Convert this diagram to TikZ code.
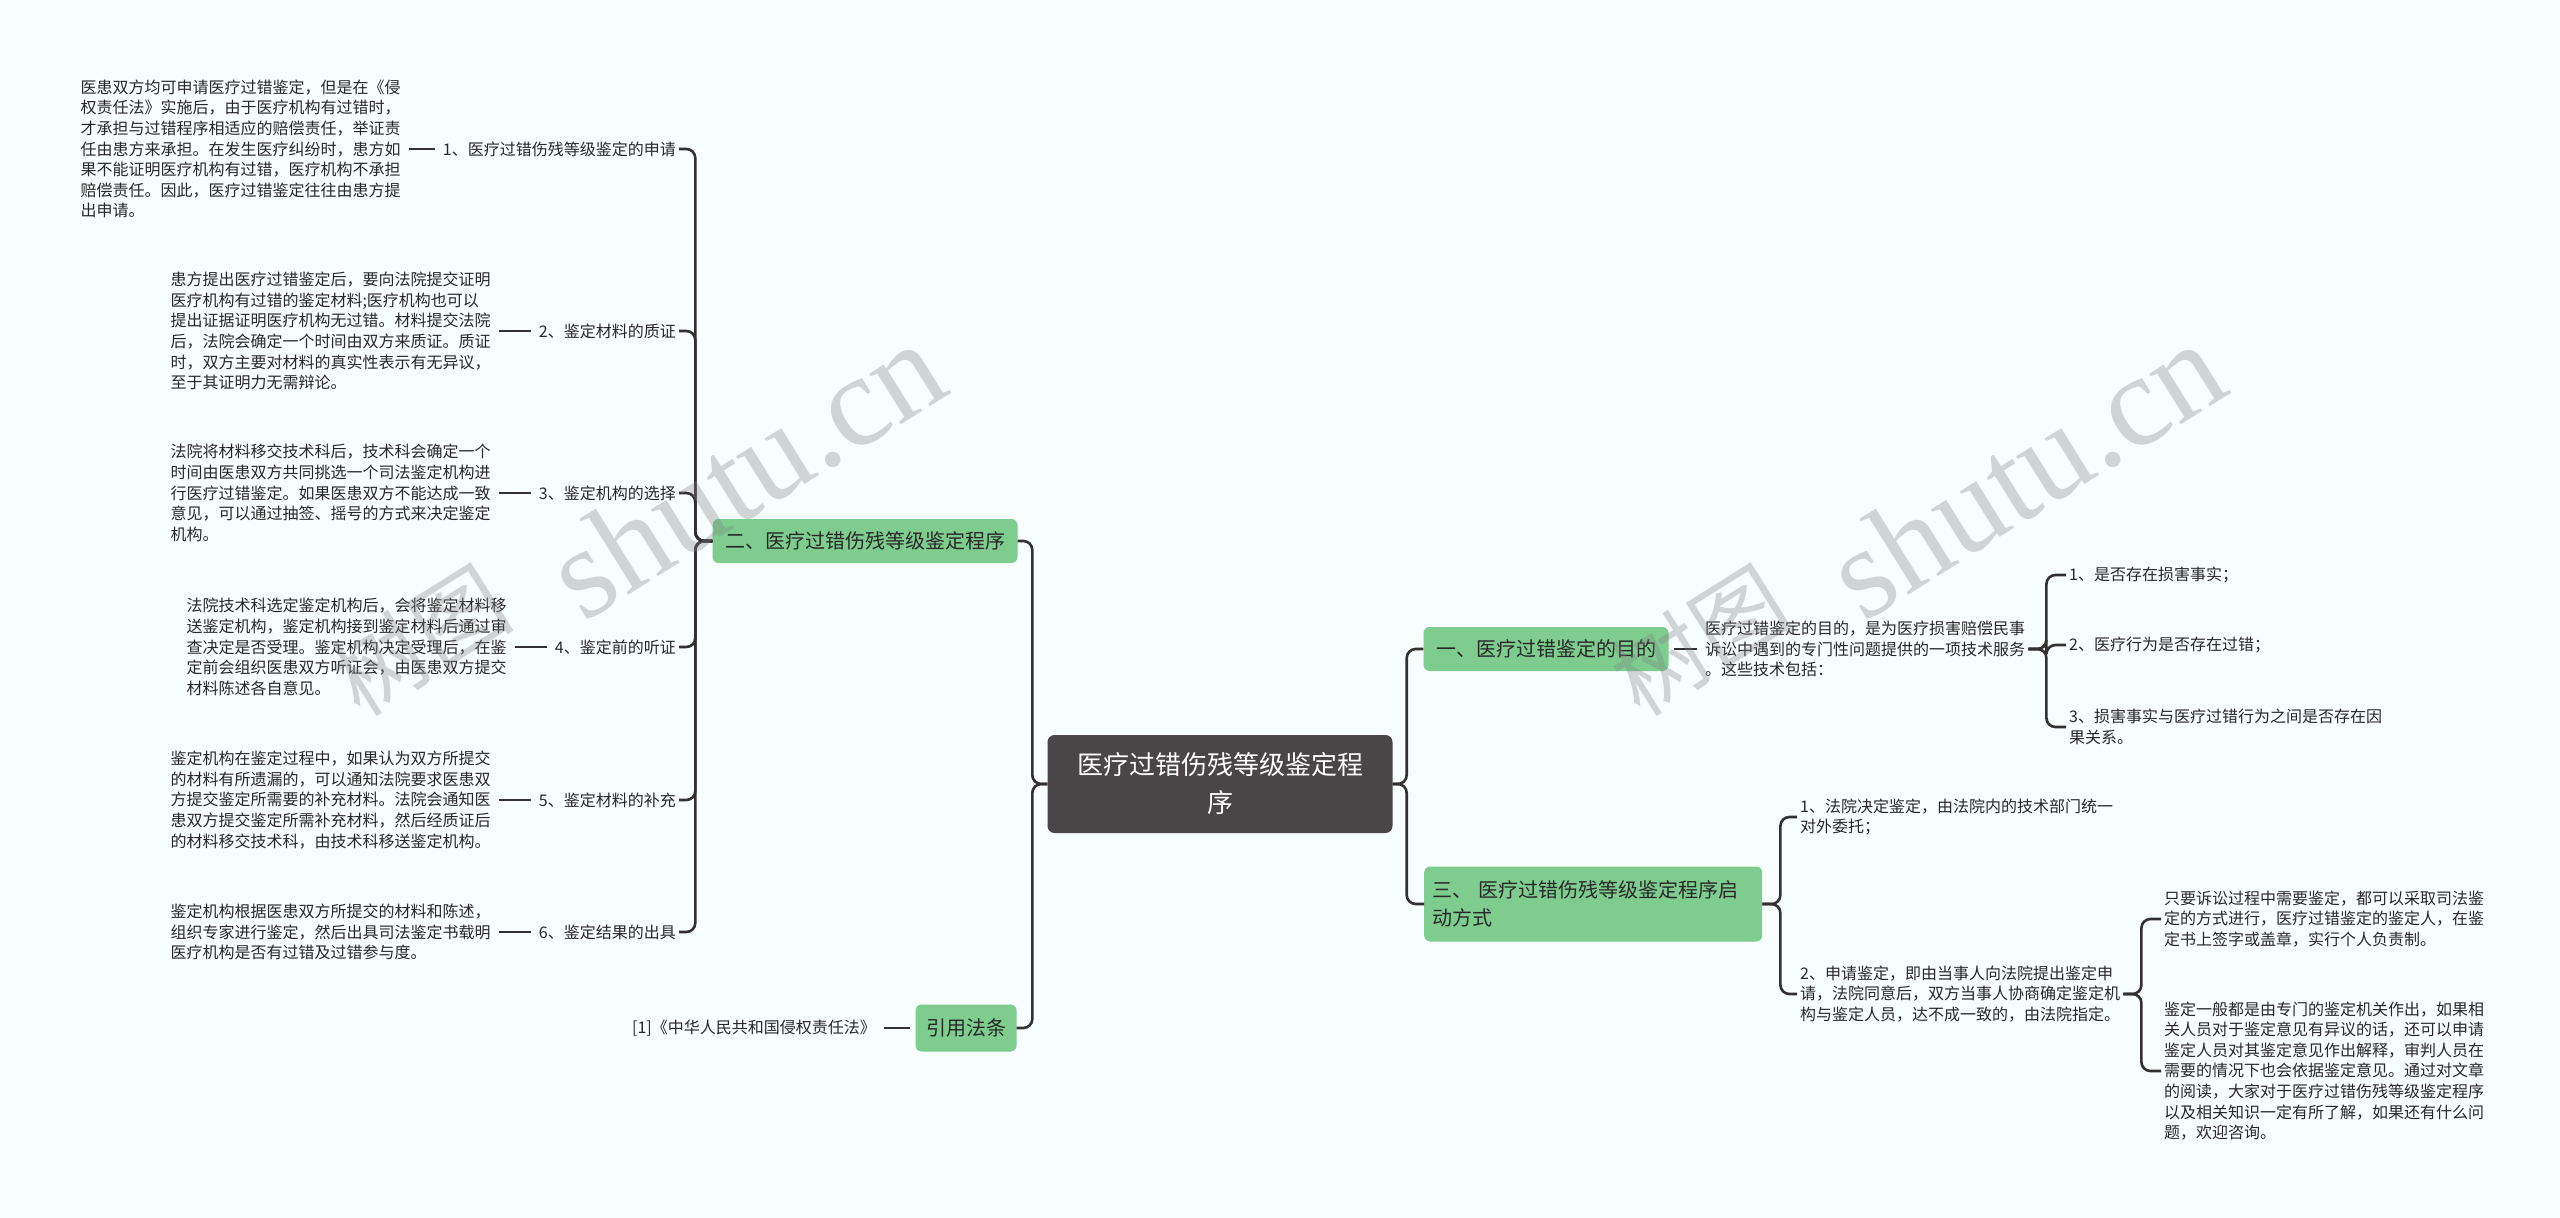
\documentclass[tikz,border=0pt]{standalone}
\usepackage{fontspec}
\setmainfont{Noto Sans CJK SC}
\newfontfamily\wmfont{Liberation Serif}
\newfontfamily\wmcjk{Noto Sans CJK SC}
\usetikzlibrary{positioning}
\definecolor{bgc}{RGB}{248,253,253}
\definecolor{greenc}{RGB}{126,205,142}
\definecolor{rootc}{RGB}{74,69,70}
\definecolor{linec}{RGB}{51,48,48}
\definecolor{textc}{RGB}{40,40,40}
\tikzset{
  conn/.style={draw=linec, line width=2.6pt, rounded corners=9pt},
  dashline/.style={draw=linec, line width=2.6pt, shorten <=5pt, shorten >=5pt},
  txt/.style={font=\fontsize{16}{20.6}\selectfont, align=left, inner sep=3pt, text=textc},
  gbox/.style={fill=greenc, rounded corners=6pt, font=\fontsize{20}{28}\selectfont, text=textc, inner xsep=8pt, inner ysep=4pt},
  rootbox/.style={fill=rootc, rounded corners=7pt, font=\fontsize{26}{38}\selectfont, text=white, align=center},
  wm/.style={text=gray, opacity=0.32, rotate=32}
}
\begin{document}
\begin{tikzpicture}[x=1pt,y=-1pt]
\useasboundingbox (0,0) rectangle (2560,1218);
\fill[bgc] (0,0) rectangle (2560,1218);

% root
\node[rootbox, minimum width=345pt, minimum height=98pt] (root) at (1220,784) {医疗过错伤残等级鉴定程\\序};

% level 1
\node[gbox, minimum width=305pt, minimum height=44pt] (two) at (865,541) {二、医疗过错伤残等级鉴定程序};
\node[gbox, minimum width=101pt, minimum height=47pt] (cite) at (966,1028) {引用法条};
\node[gbox, minimum width=245pt, minimum height=44pt] (one) at (1546,649) {一、医疗过错鉴定的目的};
\node[gbox, anchor=west, text width=322pt, align=left, minimum height=75pt] (three) at (1424,904) {三、 医疗过错伤残等级鉴定程序启\\动方式};

% left labels
\node[txt, anchor=east] (L1) at (679,149) {1、医疗过错伤残等级鉴定的申请};
\node[txt, anchor=east] (L2) at (679,331) {2、鉴定材料的质证};
\node[txt, anchor=east] (L3) at (679,493) {3、鉴定机构的选择};
\node[txt, anchor=east] (L4) at (679,647) {4、鉴定前的听证};
\node[txt, anchor=east] (L5) at (679,800) {5、鉴定材料的补充};
\node[txt, anchor=east] (L6) at (679,932) {6、鉴定结果的出具};

% left paragraphs
\node[txt, left=36pt of L1] (P1) {医患双方均可申请医疗过错鉴定，但是在《侵\\权责任法》实施后，由于医疗机构有过错时，\\才承担与过错程序相适应的赔偿责任，举证责\\任由患方来承担。在发生医疗纠纷时，患方如\\果不能证明医疗机构有过错，医疗机构不承担\\赔偿责任。因此，医疗过错鉴定往往由患方提\\出申请。};
\node[txt, left=42pt of L2] (P2) {患方提出医疗过错鉴定后，要向法院提交证明\\医疗机构有过错的鉴定材料;医疗机构也可以\\提出证据证明医疗机构无过错。材料提交法院\\后，法院会确定一个时间由双方来质证。质证\\时，双方主要对材料的真实性表示有无异议，\\至于其证明力无需辩论。};
\node[txt, left=42pt of L3] (P3) {法院将材料移交技术科后，技术科会确定一个\\时间由医患双方共同挑选一个司法鉴定机构进\\行医疗过错鉴定。如果医患双方不能达成一致\\意见，可以通过抽签、摇号的方式来决定鉴定\\机构。};
\node[txt, left=42pt of L4] (P4) {法院技术科选定鉴定机构后，会将鉴定材料移\\送鉴定机构，鉴定机构接到鉴定材料后通过审\\查决定是否受理。鉴定机构决定受理后，在鉴\\定前会组织医患双方听证会，由医患双方提交\\材料陈述各自意见。};
\node[txt, left=42pt of L5] (P5) {鉴定机构在鉴定过程中，如果认为双方所提交\\的材料有所遗漏的，可以通知法院要求医患双\\方提交鉴定所需要的补充材料。法院会通知医\\患双方提交鉴定所需补充材料，然后经质证后\\的材料移交技术科，由技术科移送鉴定机构。};
\node[txt, left=42pt of L6] (P6) {鉴定机构根据医患双方所提交的材料和陈述，\\组织专家进行鉴定，然后出具司法鉴定书载明\\医疗机构是否有过错及过错参与度。};

% citation
\node[txt, anchor=east] (ref) at (879,1028) {[1]《中华人民共和国侵权责任法》};

% right side
\node[txt, anchor=west] (Q1) at (1702,649) {医疗过错鉴定的目的，是为医疗损害赔偿民事\\诉讼中遇到的专门性问题提供的一项技术服务\\。这些技术包括：};
\node[txt, anchor=west] (C1) at (2066,575) {1、是否存在损害事实；};
\node[txt, anchor=west] (C2) at (2066,645) {2、医疗行为是否存在过错；};
\node[txt, anchor=west] (C3) at (2066,727) {3、损害事实与医疗过错行为之间是否存在因\\果关系。};

\node[txt, anchor=west] (D1) at (1797,817) {1、法院决定鉴定，由法院内的技术部门统一\\对外委托；};
\node[txt, anchor=west] (D2) at (1797,994) {2、申请鉴定，即由当事人向法院提出鉴定申\\请，法院同意后，双方当事人协商确定鉴定机\\构与鉴定人员，达不成一致的，由法院指定。};

\node[txt, anchor=west] (E1) at (2161,919) {只要诉讼过程中需要鉴定，都可以采取司法鉴\\定的方式进行，医疗过错鉴定的鉴定人，在鉴\\定书上签字或盖章，实行个人负责制。};
\node[txt, anchor=west] (E2) at (2161,1071) {鉴定一般都是由专门的鉴定机关作出，如果相\\关人员对于鉴定意见有异议的话，还可以申请\\鉴定人员对其鉴定意见作出解释，审判人员在\\需要的情况下也会依据鉴定意见。通过对文章\\的阅读，大家对于医疗过错伤残等级鉴定程序\\以及相关知识一定有所了解，如果还有什么问\\题，欢迎咨询。};

% connectors root
\draw[conn] (root.west) -- ++(-15,0) |- (two.east);
\draw[conn] (root.west) -- ++(-15,0) |- (cite.east);
\draw[conn] (root.east) -- ++(14,0) |- (one.west);
\draw[conn] (root.east) -- ++(14,0) |- (three.west);

% two -> labels
\foreach \n in {L1,L2,L3,L4,L5,L6}
  \draw[conn] (two.west) -- ++(-17,0) |- (\n.east);
% paragraph dashes
\foreach \a/\b in {P1/L1,P2/L2,P3/L3,P4/L4,P5/L5,P6/L6}
  \draw[dashline] (\a.east |- \b.west) -- (\b.west);
\draw[dashline] (ref.east) -- (cite.west);

% right
\draw[dashline] (one.east) -- (Q1.west);
\foreach \n in {C1,C2,C3}
  \draw[conn] (Q1.east) -- ++(18,0) |- (\n.west);
\foreach \n in {D1,D2}
  \draw[conn] (three.east) -- ++(18,0) |- (\n.west);
\foreach \n in {E1,E2}
  \draw[conn] (D2.east) -- ++(18,0) |- (\n.west);

% watermarks
\node[wm, font=\wmcjk\fontsize{92}{92}\selectfont] (wmA1) at (420,640) {树图};
\node[wm, font=\wmfont\fontsize{130}{130}\selectfont] (wmA2) at (745,470) {shutu.cn};
\node[wm, font=\wmcjk\fontsize{92}{92}\selectfont] (wmB1) at (1700,640) {树图};
\node[wm, font=\wmfont\fontsize{130}{130}\selectfont] (wmB2) at (2025,470) {shutu.cn};
\end{tikzpicture}
\end{document}
